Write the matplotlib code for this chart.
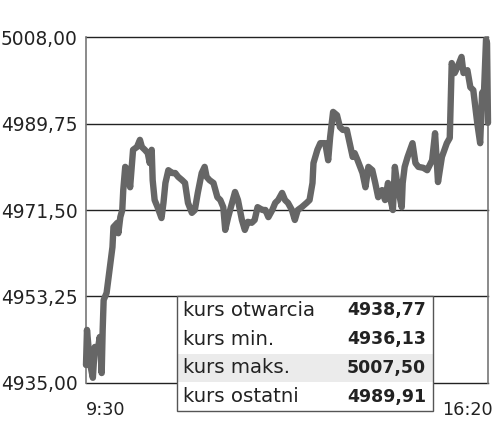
import numpy as np
import matplotlib.pyplot as plt
from matplotlib.patches import Rectangle
from matplotlib.transforms import ScaledTranslation

# minutes since 9:30 and index value
minutes = [0, 1, 4, 7, 9, 12, 14, 16, 17, 18, 21, 24, 27, 28, 32, 33, 35, 37, 38, 40,
           43, 45, 47, 48, 52, 55, 57, 60, 63, 65, 67, 68, 70, 73, 77, 79, 81, 84, 88, 91,
           94, 98, 101, 104, 108, 111, 114, 118, 121, 123, 126, 130, 134, 137, 140, 142, 145, 149, 152, 155,
           159, 162, 165, 169, 172, 175, 180, 183, 186, 190, 193, 196, 200, 203, 206, 210, 213, 216, 220, 225,
           228, 231, 232, 236, 239, 244, 247, 249, 251, 252, 256, 259, 262, 266, 269, 272, 274, 277, 282, 285,
           288, 292, 295, 298, 302, 305, 308, 310, 313, 315, 318, 322, 323, 325, 328, 333, 336, 339, 344, 348,
           353, 356, 359, 363, 368, 371, 373, 376, 379, 383, 385, 389, 392, 395, 399, 402, 404, 406, 408, 409,
           410]
values = [4938.8, 4946.2, 4939.2, 4936.1, 4942.6, 4942.0, 4944.7, 4937.1, 4946.2, 4952.5,
          4954.0, 4958.8, 4963.7, 4967.9, 4968.8, 4966.6, 4970.0, 4971.5, 4975.7, 4980.6,
          4979.9, 4976.3, 4981.4, 4984.2, 4984.8, 4986.3, 4984.8, 4984.2, 4983.5, 4981.4,
          4984.2, 4977.8, 4973.6, 4972.1, 4969.8, 4973.0, 4977.2, 4979.9, 4979.3, 4979.3,
          4978.5, 4977.8, 4977.2, 4973.0, 4970.9, 4971.5, 4975.1, 4979.3, 4980.6, 4978.5,
          4977.8, 4977.2, 4974.2, 4973.6, 4972.1, 4967.3, 4970.0, 4973.0, 4975.3, 4973.6,
          4969.4, 4967.3, 4969.0, 4968.8, 4969.4, 4972.1, 4971.5, 4971.5, 4970.0, 4971.5,
          4973.0, 4973.6, 4975.1, 4973.6, 4973.0, 4971.5, 4969.4, 4971.5, 4972.1, 4973.0,
          4973.6, 4977.2, 4981.4, 4984.2, 4985.6, 4985.6, 4982.0, 4986.9, 4990.5, 4992.2,
          4991.5, 4989.0, 4988.4, 4988.4, 4985.6, 4982.7, 4983.5, 4982.0, 4979.3, 4976.3,
          4980.6, 4979.9, 4977.2, 4974.2, 4975.7, 4973.6, 4977.2, 4974.2, 4971.5, 4980.6,
          4976.3, 4972.1, 4977.2, 4980.6, 4982.7, 4985.6, 4981.4, 4980.6, 4980.4, 4979.9,
          4982.0, 4987.7, 4977.4, 4982.7, 4985.6, 4986.7, 5002.5, 5000.4, 5001.7, 5003.8,
          5000.4, 5001.0, 4997.4, 4996.8, 4989.9, 4985.6, 4996.2, 4996.8, 5007.5, 5006.7,
          4989.9]

yticks = [4935.00, 4953.25, 4971.50, 4989.75, 5008.00]
xticks = [0, 410]
xlabels = ['9:30', '16:20']

stat_names = ['kurs otwarcia', 'kurs min.', 'kurs maks.', 'kurs ostatni']
stat_values = ['4938,77', '4936,13', '5007,50', '4989,91']

fig = plt.figure(figsize=(5, 4.37), dpi=100)
ax = fig.add_axes([0.172, 0.1236, 0.804, 0.7917])

for t in yticks:
    ax.axhline(t, color='#222222', lw=1, zorder=1, clip_on=False)
ax.plot(minutes, values, color='#666666', lw=4.6, solid_joinstyle='round',
        solid_capstyle='round', zorder=3, clip_on=False)

ax.set_xlim(0, 410)
ax.set_ylim(4935, 5008)
ax.set_yticks(yticks)
ax.set_yticklabels([f'{t:.2f}'.replace('.', ',') for t in yticks],
                   fontsize=13.4, color='#222222')
ax.tick_params(axis='y', length=0, pad=6)
ax.set_xticks(xticks)
ax.set_xticklabels(xlabels, fontsize=12.7, color='#222222')
ax.tick_params(axis='x', length=0, pad=13)
xl = ax.get_xticklabels()
xl[0].set_ha('left')
xl[1].set_ha('right')
xl[1].set_transform(xl[1].get_transform() + ScaledTranslation(5 / 100, 0, fig.dpi_scale_trans))

for s in ['top', 'bottom']:
    ax.spines[s].set_visible(False)
for s in ['left', 'right']:
    ax.spines[s].set_color('#777777')
    ax.spines[s].set_linewidth(1.2)

# stats box (figure coordinates)
bx0, bx1 = 177 / 500, 433 / 500
by_top, by_bot = 1 - 296 / 437, 1 - 411 / 437
row_h = (by_top - by_bot) / 4
fig.patches.append(Rectangle((bx0, by_bot), bx1 - bx0, by_top - by_bot,
                             transform=fig.transFigure, facecolor='white',
                             edgecolor='none', zorder=4))
fig.patches.append(Rectangle((bx0, by_top - 3 * row_h), bx1 - bx0, row_h,
                             transform=fig.transFigure, facecolor='#ebebeb',
                             edgecolor='none', zorder=5))
fig.patches.append(Rectangle((bx0, by_bot), bx1 - bx0, by_top - by_bot,
                             transform=fig.transFigure, facecolor='none',
                             edgecolor='#555555', lw=1, zorder=6))
for i, (n, v) in enumerate(zip(stat_names, stat_values)):
    yc = by_top - (i + 0.5) * row_h
    fig.text(183 / 500, yc, n, fontsize=14.2, color='#222222', va='center', zorder=7)
    fig.text(426 / 500, yc, v, fontsize=12.5, fontweight='bold', color='#222222',
             va='center', ha='right', zorder=7)

fig.savefig('out.png', dpi=100)
